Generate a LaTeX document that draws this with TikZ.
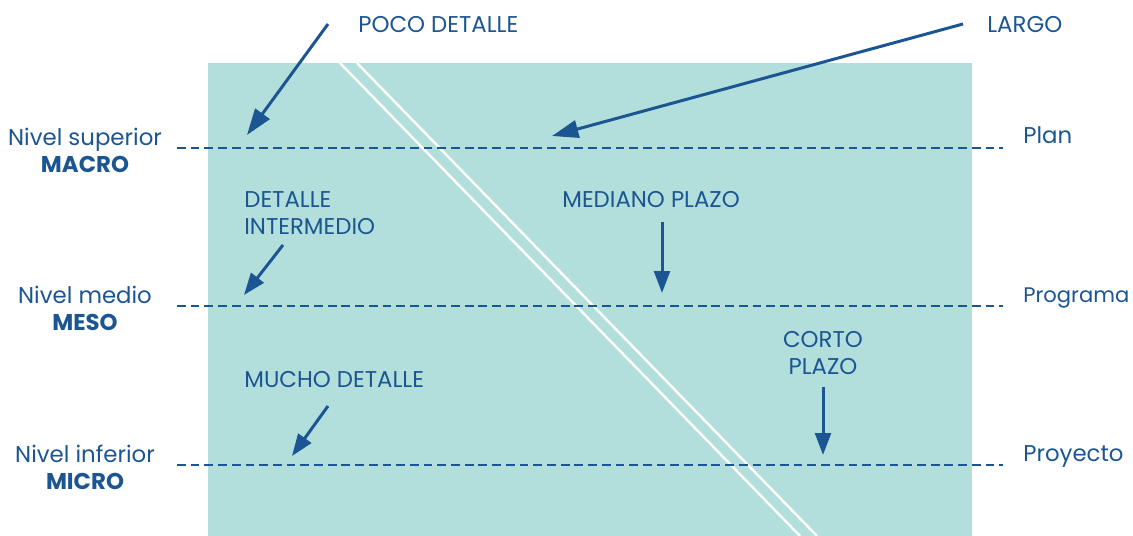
\documentclass[tikz,border=0pt]{standalone}
\usepackage{fontspec}
\setmainfont{Poppins}
\usetikzlibrary{arrows.meta,positioning}

\definecolor{azul}{HTML}{1B5592}
\definecolor{turquesa}{HTML}{B2DFDB}

\tikzset{
  etiqueta/.style={text=azul, inner sep=0pt, font=\fontsize{13}{15.3}\selectfont},
  flecha/.style={draw=azul, line width=1.7pt, -{Triangle[length=15pt,width=10pt]}},
  flechita/.style={draw=azul, line width=1.7pt, -{Triangle[length=12.5pt,width=9pt]}},
  nivel/.style={draw=azul, line width=1.7pt, dash pattern=on 5pt off 2.8pt},
  corte/.style={draw=white, line width=1.4pt}
}

\begin{document}
\begin{tikzpicture}[x=0.02cm, y=-0.02cm]
			\useasboundingbox (0,0) rectangle (1133,536);
			\fill[turquesa] (208,63) rectangle (972,536);
			\draw[corte] (340,63) -- (800,536);
			\draw[corte] (357,63) -- (817,536);

			% niveles
			\draw[nivel] (177,148) -- (1003,148);
			\draw[nivel] (177,306) -- (1003,306);
			\draw[nivel] (177,465) -- (1003,465);

			\node[etiqueta, anchor=north, align=center] (macro) at (85,128) {Nivel superior\\\textbf{MACRO}};
			\node[etiqueta, anchor=north, align=center] (meso) at (85,286) {Nivel medio\\\textbf{MESO}};
			\node[etiqueta, anchor=north, align=center] (micro) at (85,445) {Nivel inferior\\\textbf{MICRO}};

			\node[etiqueta, anchor=base west] (plan) at (1023,144) {Plan};
			\node[etiqueta, anchor=base west, font=\fontsize{12}{15.3}\selectfont] (programa) at (1023,303) {Programa};
			\node[etiqueta, anchor=base west] (proyecto) at (1023,462) {Proyecto};

			% detalle
			\node[etiqueta, anchor=base west] (poco) at (358,33) {POCO DETALLE};
			\node[etiqueta, anchor=north west, align=left] (intermedio) at (244,191) {DETALLE\\INTERMEDIO};
			\node[etiqueta, anchor=base west] (mucho) at (244,388) {MUCHO DETALLE};

			% plazo
			\node[etiqueta, anchor=base west] (largo) at (987,33) {LARGO};
			\node[etiqueta, anchor=base west] (mediano) at (562,208) {MEDIANO PLAZO};
			\node[etiqueta, anchor=north, align=center] (corto) at (823,331) {CORTO\\PLAZO};

			\coordinate (poco-a) at (328,24);
			\coordinate (poco-b) at (247,135);
			\coordinate (largo-a) at (963,24);
			\coordinate (largo-b) at (552,136);
			\coordinate (intermedio-a) at (283,245);
			\coordinate (intermedio-b) at (244,295);
			\coordinate (mediano-a) at (662,222);
			\coordinate (mediano-b) at (662,293);
			\coordinate (mucho-a) at (328,406);
			\coordinate (mucho-b) at (292,456);
			\coordinate (corto-a) at (823,387);
			\coordinate (corto-b) at (823,455);

			\draw[flecha] (poco-a) to (poco-b);
			\draw[flecha] (largo-a) to (largo-b);
			\draw[flechita] (intermedio-a) to (intermedio-b);
			\draw[flechita] (mediano-a) to (mediano-b);
			\draw[flechita] (mucho-a) to (mucho-b);
			\draw[flechita] (corto-a) to (corto-b);
		\end{tikzpicture}
\end{document}
